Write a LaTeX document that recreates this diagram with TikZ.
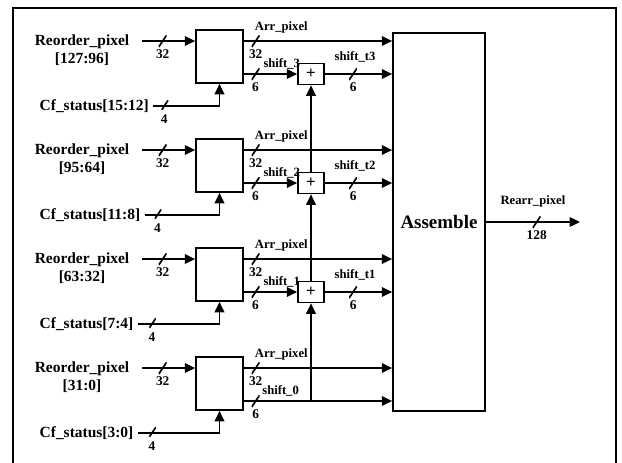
\documentclass[tikz,border=0pt]{standalone}
\usepackage{fontspec}
\setmainfont{Liberation Serif}
\usetikzlibrary{positioning,arrows.meta,calc}

\begin{document}
\begin{tikzpicture}[
    x=0.025cm, y=-0.025cm,
    every node/.style={font=\bfseries},
    blockbox/.style={rectangle, draw, line width=1.2pt, minimum width=1.175cm,
      minimum height=1.325cm, inner sep=0pt},
    plusbox/.style={rectangle, draw, line width=1.2pt, minimum width=0.65cm,
      minimum height=0.525cm, inner sep=0pt, font=\large\bfseries},
    asmbox/.style={rectangle, draw, line width=1.2pt, minimum width=2.3cm,
      minimum height=9.45cm, font=\fontsize{13.5}{15}\selectfont\bfseries},
    sigline/.style={-{Triangle[length=2.6mm, width=2.4mm]}, line width=1.2pt},
    busmark/.style={inner sep=0pt, minimum width=0.2cm, minimum height=0.3cm,
      path picture={\draw[-, line width=1.2pt] (path picture bounding box.south west)
        -- (path picture bounding box.north east);}},
    widthlbl/.style={inner sep=1pt, font=\fontsize{9.5}{11}\selectfont\bfseries},
    siglbl/.style={inner sep=2pt, font=\fontsize{9}{10}\selectfont\bfseries},
    portlbl/.style={align=center, inner sep=1pt,
      font=\fontsize{11}{12.5}\selectfont\bfseries},
  ]
  \useasboundingbox (0,0) rectangle (622,462);
  % outer frame (open at the bottom edge)
  \draw[line width=1pt] (13,475) -- (13,8) -- (616,8) -- (616,475);

  % Assemble block and its output
  \node[asmbox] (asm) at (439,222) {Assemble};
  \coordinate (out) at (580,222);
  \draw[sigline] (asm.east) -- (out)
    node[busmark, pos=0.54, label={[widthlbl]below:128}] {}
    node[siglbl, pos=0.5, above=8pt] {Rearr\_pixel};

  % one row per 32-bit slice
  \foreach \n/\yy/\hb/\lb/\hc/\lc/\sh in
    {1/30/127/96/15/12/3, 2/139/95/64/11/8/2, 3/248/63/32/7/4/1, 4/357/31/0/3/0/0} {
    \node[portlbl] (rp\n) at (82,\yy+20) {Reorder\_pixel\\{[}\hb:\lb{]}};
    \coordinate (in\n) at (142,\yy+11);
    \node[blockbox] (blk\n) at (219.5,\yy+26.5) {};
    \draw[sigline] (in\n) -- (in\n -| blk\n.west)
      node[busmark, pos=0.39, label={[widthlbl]below:32}] {};

    \node[portlbl, anchor=west] (cf\n) at (38,\yy+76) {Cf\_status[\hc:\lc]};
    \draw[sigline, shorten <=2pt] (cf\n.east) -| (blk\n.south)
      node[busmark, pos=0.1, label={[widthlbl]below:4}] {};

    \draw[sigline] (in\n -| blk\n.east) -- (in\n -| asm.west)
      node[busmark, pos=0.08, label={[widthlbl]below:32}] {}
      node[siglbl, pos=0.05, anchor=south west, yshift=3pt] {Arr\_pixel};

    \ifnum\n<4
      \node[plusbox] (plus\n) at (311,\yy+44) {+};
      \draw[sigline] (blk\n.east |- plus\n) -- (plus\n.west)
        node[busmark, pos=0.22, label={[widthlbl]below:6}] {}
        node[siglbl, pos=0.3, anchor=south west, yshift=1pt] {shift\_\sh};
      \draw[sigline] (plus\n.east) -- (plus\n -| asm.west)
        node[busmark, pos=0.42, label={[widthlbl]below:6}] {}
        node[siglbl, pos=0.45, above=6pt] {shift\_t\sh};
    \else
      \coordinate (tap) at (311,\yy+44);
      \draw[sigline] (blk\n.east |- tap) -- (tap -| asm.west)
        node[busmark, pos=0.08, label={[widthlbl]below:6}] {}
        node[siglbl, pos=0.1, anchor=south west, yshift=1pt] {shift\_\sh};
    \fi
  }

  % running sum of the shifts
  \draw[sigline] (tap) -- (plus3.south);
  \draw[sigline] (plus3.north) -- (plus2.south);
  \draw[sigline] (plus2.north) -- (plus1.south);
\end{tikzpicture}
\end{document}
